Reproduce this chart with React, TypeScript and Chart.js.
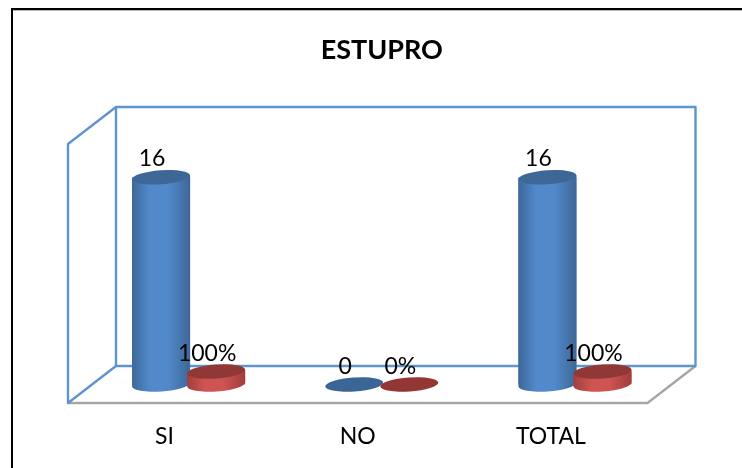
import { useEffect, useRef } from "react";
import { Chart, registerables } from "chart.js";

Chart.register(...registerables);

const titleText = "ESTUPRO";
const categories = ["SI", "NO", "TOTAL"];
const counts = [16, 0, 16];
const shares = [1, 0, 1];
const countLabels = ["16", "0", "16"];
const shareLabels = ["100%", "0%", "100%"];

const FONT = 'Lato, sans-serif';
const DEPTH_X = 24;
const DEPTH_Y = 18.5;
const RY = 7;
const TILT = -0.07;

const blue = { edge: "#3d6797", mid: "#5289cb", cap: "#3c6797", capFlat: "#3a6595" };
const red = { edge: "#a03e3c", mid: "#cd5451", cap: "#8f3836", capFlat: "#933735" };

const scene = {
  id: "scene",
  beforeDatasetsDraw(chart: any) {
    const { ctx, chartArea: a } = chart;
    ctx.save();
    ctx.lineJoin = "round";
    ctx.lineWidth = 2.4;
    const bl = a.left + DEPTH_X, br = a.right + DEPTH_X, bt = a.top - DEPTH_Y, bb = a.bottom - DEPTH_Y;
    const fl = a.left - DEPTH_X, fr = a.right - DEPTH_X, ft = a.top + DEPTH_Y, fb = a.bottom + DEPTH_Y;
    ctx.strokeStyle = "#a6a6a6";
    ctx.beginPath();
    ctx.moveTo(fl, fb);
    ctx.lineTo(fr, fb);
    ctx.lineTo(br, bb);
    ctx.stroke();
    ctx.strokeStyle = "#6094cd";
    ctx.beginPath();
    ctx.rect(bl, bt, br - bl, bb - bt);
    ctx.moveTo(bl, bt);
    ctx.lineTo(fl, ft);
    ctx.lineTo(fl, fb);
    ctx.lineTo(bl, bb);
    ctx.stroke();
    ctx.restore();
  },
  afterDatasetsDraw(chart: any) {
    const { ctx } = chart;
    const palettes = [blue, red];
    [0, 1].forEach((di) => {
      const p = palettes[di];
      chart.getDatasetMeta(di).data.forEach((bar: any) => {
        const w = bar.width, x0 = bar.x - w / 2, rx = w / 2;
        const flat = Math.abs(bar.base - bar.y) < 0.5;
        ctx.save();
        if (!flat) {
          const g = ctx.createLinearGradient(x0, 0, x0 + w, 0);
          g.addColorStop(0, p.edge);
          g.addColorStop(0.3, p.mid);
          g.addColorStop(0.62, p.mid);
          g.addColorStop(1, p.edge);
          ctx.fillStyle = g;
          ctx.beginPath();
          ctx.moveTo(x0, bar.y + 2);
          ctx.lineTo(x0 + w, bar.y - 2);
          ctx.lineTo(x0 + w, bar.base - 2);
          ctx.ellipse(bar.x, bar.base, rx, RY, TILT, 0, Math.PI);
          ctx.closePath();
          ctx.fill();
        }
        ctx.fillStyle = flat ? p.capFlat : p.cap;
        ctx.beginPath();
        ctx.ellipse(bar.x, bar.y, rx, RY, TILT, 0, Math.PI * 2);
        ctx.fill();
        ctx.restore();
      });
    });
    const labels = [countLabels, shareLabels];
    ctx.save();
    ctx.fillStyle = "#000000";
    ctx.font = `23px ${FONT}`;
    ctx.textAlign = "center";
    ctx.textBaseline = "alphabetic";
    [0, 1].forEach((di) => {
      chart.getDatasetMeta(di).data.forEach((bar: any, i: number) => {
        ctx.fillText(labels[di][i], bar.x - 9, bar.y - 11);
      });
    });
    ctx.restore();
  },
};

export default function App() {
  const ref = useRef<HTMLCanvasElement>(null);
  useEffect(() => {
    document.body.style.margin = "0";
    const chart = new Chart(ref.current!, {
      type: "bar",
      data: {
        labels: categories,
        datasets: [
          { label: "Casos", data: counts, backgroundColor: blue.mid, barPercentage: 1.055, categoryPercentage: 0.57 },
          { label: "Porcentaje", data: shares, backgroundColor: red.mid, barPercentage: 1.055, categoryPercentage: 0.57 },
        ],
      },
      plugins: [scene],
      options: {
        responsive: false,
        animation: false,
        layout: { padding: { left: 92, right: 70.5, top: 0, bottom: 0 } },
        plugins: {
          legend: { display: false },
          tooltip: { enabled: false },
          title: {
            display: true,
            text: titleText,
            color: "#000000",
            font: { family: FONT, size: 27, weight: "bold" },
            padding: { top: 34, bottom: 59.1 },
          },
        },
        scales: {
          x: {
            afterFit: (s: any) => { s.height = 83.5; },
            grid: { display: false },
            border: { display: false },
            ticks: { color: "#000000", font: { family: FONT, size: 23 }, labelOffset: -24, padding: 30, maxRotation: 0 },
          },
          y: { display: false, min: 0, max: 20 },
        },
      },
    } as any);
    return () => chart.destroy();
  }, []);
  return (
    <div style={{ position: "relative", width: 742, height: 468, background: "#fff", overflow: "hidden" }}>
      <canvas ref={ref} width={742} height={468} style={{ display: "block" }} />
      <div style={{ position: "absolute", left: 11, top: 8, right: 0, height: 2, background: "#000", boxShadow: "0 1px 0 #bbb" }} />
      <div style={{ position: "absolute", left: 11, top: 8, bottom: 0, width: 2, background: "#000" }} />
    </div>
  );
}
